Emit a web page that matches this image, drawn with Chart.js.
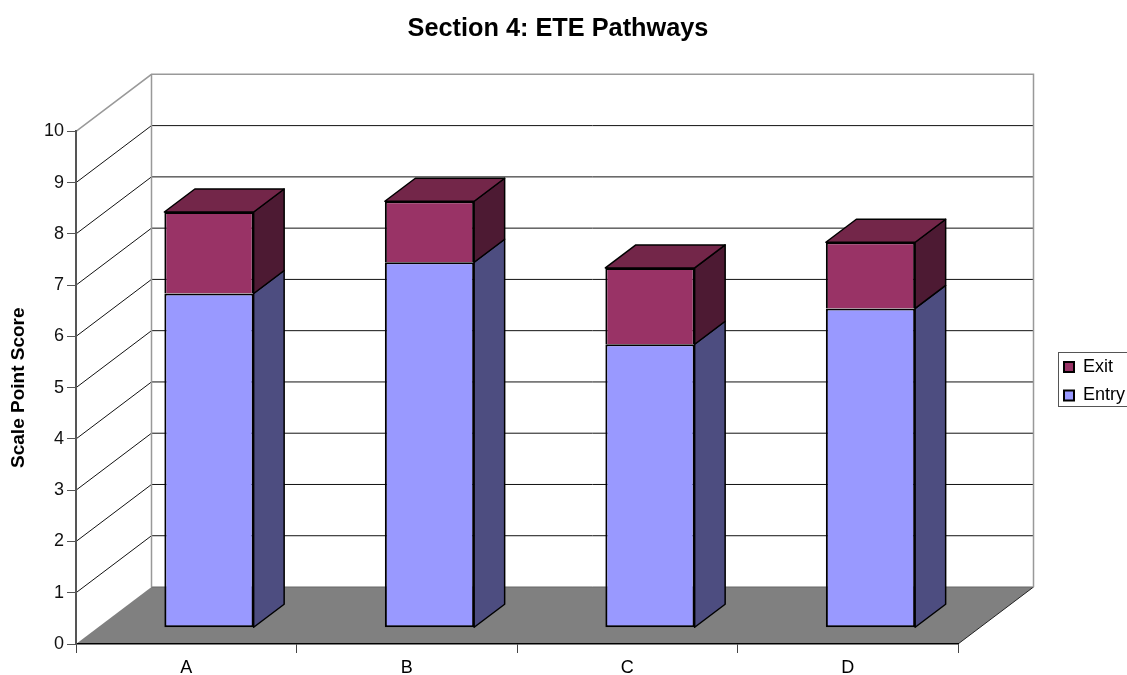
<!DOCTYPE html>
<html><head><meta charset="utf-8">
<style>html,body{margin:0;padding:0;background:#fff}#w{width:1127px;height:675px}</style>
<script src="https://cdn.jsdelivr.net/npm/chart.js@4"></script></head>
<body><div id="w"><canvas id="c"></canvas></div>
<script>
const categories = ['A','B','C','D'];
const entryValues = [6.52,7.13,5.53,6.23];
const exitValues = [1.59,1.19,1.49,1.29];
const chartTitle = 'Section 4: ETE Pathways';
const yTitle = 'Scale Point Score';

const WALL = {dx:75.5, dy:-57};
const BAR = {dx:22.75, dy:-16.25, sx:30.5, sy:-23};
const FONT = '"Liberation Sans", Arial, sans-serif';
const LEGEND_PAD = 10.4;

function poly(ctx, pts, fill, stroke, lw){
  ctx.beginPath();
  pts.forEach((p,i)=> i?ctx.lineTo(p[0],p[1]):ctx.moveTo(p[0],p[1]));
  ctx.closePath();
  if(fill){ctx.fillStyle=fill;ctx.fill();}
  if(stroke){ctx.strokeStyle=stroke;ctx.lineWidth=lw||1;ctx.lineJoin='round';ctx.stroke();}
}
const threeD = {
  id:'threeD',
  beforeDraw(chart){
    const ctx=chart.ctx,{x:xs,y:ys}=chart.scales;
    const l=xs.left,r=xs.right,b=ys.getPixelForValue(0),t=ys.getPixelForValue(10);
    // reposition the native legend and title
    const lg=chart.legend;
    lg.left=1064-LEGEND_PAD;lg.right=1127;
    lg.top=358-LEGEND_PAD;lg.bottom=450;
    chart.titleBlock.left=0;chart.titleBlock.right=1116;
    ctx.save();
    // legend frame
    ctx.fillStyle='#fff';ctx.strokeStyle='#555';ctx.lineWidth=1;
    ctx.strokeRect(1058.5,352.5,80,54);
    // floor
    poly(ctx,[[l,b],[r,b],[r+WALL.dx,b+WALL.dy],[l+WALL.dx,b+WALL.dy]],'#808080');
    ctx.beginPath();ctx.moveTo(r,b);ctx.lineTo(r+WALL.dx,b+WALL.dy);ctx.strokeStyle='#222';ctx.lineWidth=1;ctx.stroke();
    ctx.beginPath();ctx.moveTo(l+WALL.dx,b+WALL.dy);ctx.lineTo(r+WALL.dx,b+WALL.dy);ctx.strokeStyle='#666';ctx.stroke();
    // grid lines on the two walls
    ctx.strokeStyle='#111';ctx.lineWidth=1;
    ys.ticks.forEach(tk=>{
      if(tk.value===0||tk.value===10) return;
      const y=ys.getPixelForValue(tk.value);
      ctx.beginPath();ctx.moveTo(l,y);ctx.lineTo(l+WALL.dx,y+WALL.dy);
      ctx.lineTo(r+WALL.dx,y+WALL.dy);ctx.stroke();
    });
    // wall outline
    ctx.strokeStyle='#999';ctx.lineWidth=1.5;
    ctx.beginPath();ctx.moveTo(l,t);ctx.lineTo(l+WALL.dx,t+WALL.dy);ctx.lineTo(r+WALL.dx,t+WALL.dy);
    ctx.lineTo(r+WALL.dx,b+WALL.dy);ctx.stroke();
    ctx.beginPath();ctx.moveTo(l+WALL.dx,t+WALL.dy);ctx.lineTo(l+WALL.dx,b+WALL.dy);ctx.stroke();
    ctx.restore();
  },
  beforeDatasetsDraw(chart){chart.ctx.save();chart.ctx.translate(BAR.dx,BAR.dy);},
  afterDatasetsDraw(chart){
    const ctx=chart.ctx;ctx.restore();ctx.save();
    const sides=['#4D4D80','#4D1A33'];
    chart.data.datasets.forEach((ds,i)=>{
      chart.getDatasetMeta(i).data.forEach(bar=>{
        const p=bar.getProps(['x','y','base','width'],true);
        const R=p.x+p.width/2+BAR.dx,L=p.x-p.width/2+BAR.dx,T=p.y+BAR.dy,B=p.base+BAR.dy;
        poly(ctx,[[R,T],[R+BAR.sx,T+BAR.sy],[R+BAR.sx,B+BAR.sy],[R,B]],sides[i],'#000',1.5);
        if(i===chart.data.datasets.length-1)
          poly(ctx,[[L,T],[L+BAR.sx,T+BAR.sy],[R+BAR.sx,T+BAR.sy],[R,T]],'#732649','#000',1.5);
      });
    });
    ctx.restore();
  }
};
new Chart(document.getElementById('c'),{
  type:'bar',
  data:{labels:categories,datasets:[
    {label:'Entry',data:entryValues,backgroundColor:'#9999FF',borderColor:'#000',borderWidth:2,borderSkipped:false,inflateAmount:0},
    {label:'Exit',data:exitValues,backgroundColor:'#993366',borderColor:'#000',borderWidth:2,borderSkipped:'bottom',inflateAmount:0}
  ]},
  plugins:[threeD],
  options:{
    responsive:true,maintainAspectRatio:false,animation:false,
    layout:{padding:{left:0,right:100,top:0,bottom:0}},
    datasets:{bar:{barPercentage:0.405,categoryPercentage:1}},
    plugins:{
      tooltip:{enabled:false},
      title:{display:true,text:chartTitle,color:'#000',font:{family:FONT,size:25.3,weight:'bold',lineHeight:1.2},padding:{top:14,bottom:87}},
      legend:{position:'right',align:'start',maxWidth:69,reverse:true,
        labels:{color:'#000',boxWidth:10,boxHeight:10,padding:LEGEND_PAD,font:{family:FONT,size:18}}}
    },
    scales:{
      x:{stacked:true,offset:true,
        afterFit(s){s.height=31;},
        border:{color:'#000',width:1.5},
        grid:{offset:true,drawOnChartArea:false,tickLength:9,color:'#444',tickWidth:1},
        ticks:{color:'#000',padding:4,maxRotation:0,font:{family:FONT,size:18}}},
      y:{stacked:true,min:0,max:10,
        afterFit(s){s.width=76;},
        border:{color:'#555',width:2},
        grid:{drawOnChartArea:false,tickLength:9,color:'#555',tickWidth:1},
        ticks:{stepSize:1,color:'#111',padding:3,font:{family:FONT,size:18}},
        title:{display:true,text:yTitle,color:'#000',padding:{top:7,bottom:0},font:{family:FONT,size:19,weight:'bold'}}}
    }
  }
});
</script></body></html>
